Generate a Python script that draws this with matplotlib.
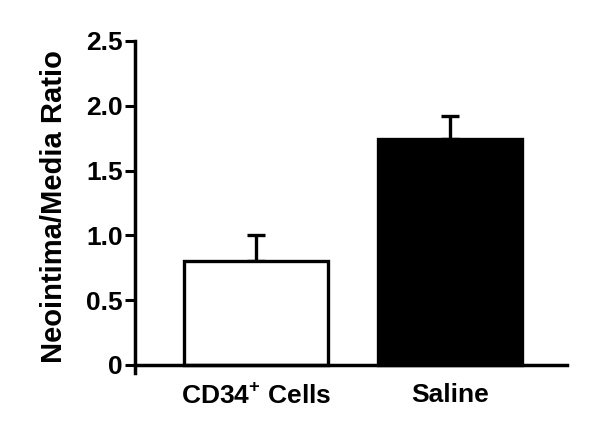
import numpy as np
import matplotlib.pyplot as plt

# Data
groups = ['CD34$^{\\mathbf{+}}$ Cells', 'Saline']
ratio = [0.80, 1.74]
sem = [0.20, 0.18]
colours = ['white', 'black']

plt.rcParams['font.family'] = ['Liberation Sans', 'DejaVu Sans']
plt.rcParams['font.weight'] = 'bold'
plt.rcParams['mathtext.fontset'] = 'custom'
plt.rcParams['mathtext.rm'] = 'Liberation Sans:bold'
plt.rcParams['mathtext.bf'] = 'Liberation Sans:bold'

fig = plt.figure(figsize=(6, 4.38), dpi=100)
ax = fig.add_axes([135 / 600, 65 / 438, 432 / 600, 332 / 438])

x = np.arange(len(groups))
ax.bar(x, ratio, width=0.74, color=colours, edgecolor='black', linewidth=2.4, zorder=2)
ax.errorbar(x, ratio, yerr=[np.zeros(len(sem)), sem], fmt='none', ecolor='black',
            elinewidth=2.4, capsize=6.5, capthick=2.4, zorder=1)

ax.set_xlim(-0.624, 1.603)
ax.set_ylim(-0.062, 2.5)
ax.set_yticks([0, 0.5, 1.0, 1.5, 2.0, 2.5])
ax.set_yticklabels(['0', '0.5', '1.0', '1.5', '2.0', '2.5'])
ax.set_xticks(x)
ax.set_xticklabels(groups)

for side in ['top', 'right']:
    ax.spines[side].set_visible(False)
ax.spines['bottom'].set_position(('data', 0))
ax.spines['left'].set_linewidth(2.5)
ax.spines['bottom'].set_linewidth(2.5)

ax.tick_params(axis='y', length=7, width=2.2, pad=2, labelsize=19)
ax.tick_params(axis='x', length=0, pad=13, labelsize=19)

ax.set_ylabel('Neointima/Media Ratio', fontsize=21, fontweight='bold')
ax.yaxis.set_label_coords(-0.155, 0.5)

plt.savefig('out.png', dpi=100)
